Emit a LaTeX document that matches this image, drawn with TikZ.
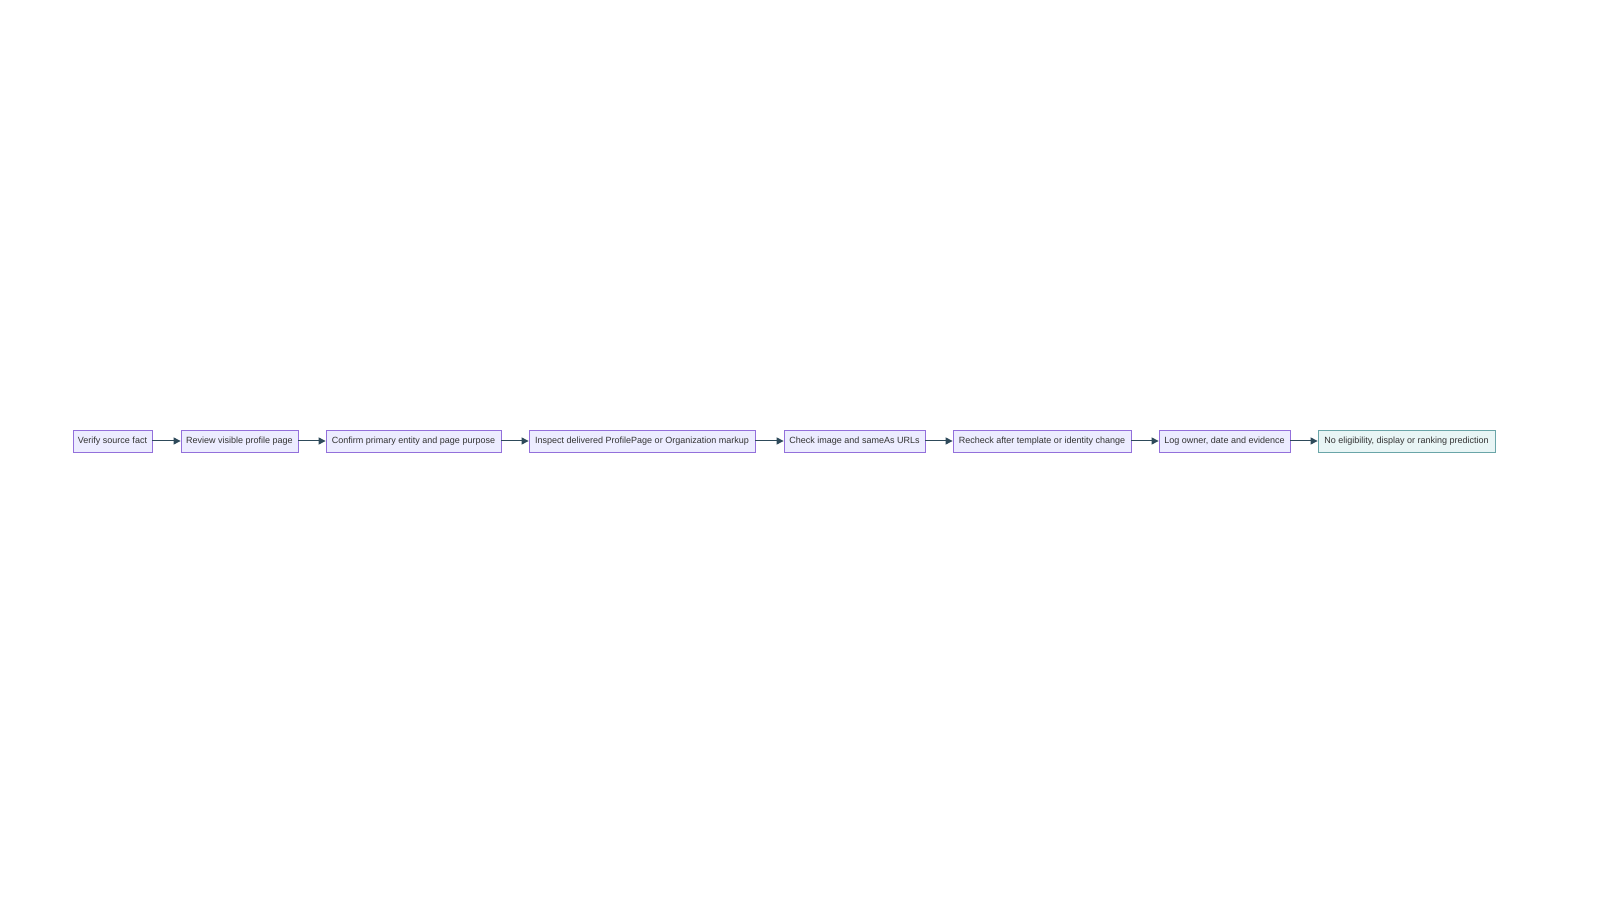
\documentclass[tikz,border=0pt]{standalone}
\usepackage{fontspec}
\setmainfont{Liberation Sans}
\usetikzlibrary{arrows.meta}
\definecolor{boxfill}{HTML}{ECECFF}
\definecolor{boxline}{HTML}{9370DB}
\definecolor{endfill}{HTML}{E8F5F5}
\definecolor{endline}{HTML}{6AA5A8}
\definecolor{edge}{HTML}{2E4A5A}
\definecolor{txt}{HTML}{333333}
\tikzset{
  x=1pt,y=1pt,
  stepbox/.style={draw=boxline, fill=boxfill, line width=0.8pt, minimum height=22pt, inner sep=0pt, text=txt, font=\fontsize{9}{11}\selectfont},
  endbox/.style={stepbox, draw=endline, fill=endfill},
  flow/.style={draw=edge, line width=1pt, -{Triangle[length=7pt,width=7pt]}}
}
\begin{document}
\begin{tikzpicture}
\useasboundingbox (0,0) rectangle (1600,900);
\node[stepbox, minimum width=79pt] (n1) at (112.5,459) {Verify source fact};
\node[stepbox, minimum width=117pt] (n2) at (239.5,459) {Review visible profile page};
\node[stepbox, minimum width=175pt] (n3) at (413.5,459) {Confirm primary entity and page purpose};
\node[stepbox, minimum width=226pt] (n4) at (642,459) {Inspect delivered ProfilePage or Organization markup};
\node[stepbox, minimum width=141pt] (n5) at (854.5,459) {Check image and sameAs URLs};
\node[stepbox, minimum width=178pt] (n6) at (1042,459) {Recheck after template or identity change};
\node[stepbox, minimum width=131pt] (n7) at (1224.5,459) {Log owner, date and evidence};
\node[endbox, minimum width=177pt] (n8) at (1406.5,459) {No eligibility, display or ranking prediction};
\draw[flow] (n1) -- (n2);
\draw[flow] (n2) -- (n3);
\draw[flow] (n3) -- (n4);
\draw[flow] (n4) -- (n5);
\draw[flow] (n5) -- (n6);
\draw[flow] (n6) -- (n7);
\draw[flow] (n7) -- (n8);
\end{tikzpicture}
\end{document}
